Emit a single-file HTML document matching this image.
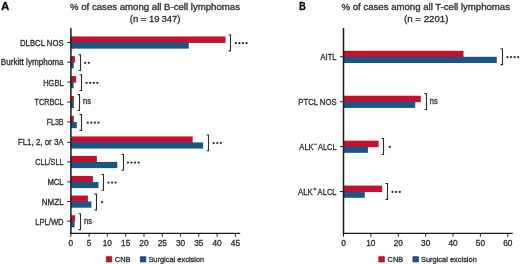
<!DOCTYPE html>
<html><head><meta charset="utf-8"><style>
html,body{margin:0;padding:0;background:#fff;}
body{width:520px;height:264px;overflow:hidden;}
svg{display:block;font-family:"Liberation Sans",sans-serif;will-change:transform;}
text{stroke:#2b2b2b;stroke-width:0.3px;}
</style></head><body>
<svg width="520" height="264" viewBox="0 0 520 264">
<rect width="520" height="264" fill="#fff"/>
<rect x="70.90" y="36.45" width="154.60" height="6.5" fill="#c5112d"/>
<rect x="70.90" y="42.45" width="117.90" height="6.2" fill="#1a5685"/>
<line x1="67.30" y1="42.45" x2="70.90" y2="42.45" stroke="#1a1a1a" stroke-width="1"/>
<text x="20.00" y="45.90" font-size="8.6" textLength="43.60" lengthAdjust="spacingAndGlyphs" font-weight="normal" fill="#2b2b2b" >DLBCL NOS</text>
<path d="M228.50 35.05 H230.50 V50.85 H228.50" fill="none" stroke="#2b2b2b" stroke-width="1.1"/>
<circle cx="235.80" cy="43.15" r="1.15" fill="#2b2b2b"/>
<circle cx="239.38" cy="43.15" r="1.15" fill="#2b2b2b"/>
<circle cx="242.96" cy="43.15" r="1.15" fill="#2b2b2b"/>
<circle cx="246.54" cy="43.15" r="1.15" fill="#2b2b2b"/>
<rect x="70.90" y="56.15" width="4.10" height="6.5" fill="#c5112d"/>
<rect x="70.90" y="62.15" width="2.90" height="6.2" fill="#1a5685"/>
<line x1="67.30" y1="62.15" x2="70.90" y2="62.15" stroke="#1a1a1a" stroke-width="1"/>
<text x="0.80" y="65.00" font-size="8.6" textLength="62.80" lengthAdjust="spacingAndGlyphs" font-weight="normal" fill="#2b2b2b" >Burkitt lymphoma</text>
<path d="M78.50 54.75 H80.50 V70.55 H78.50" fill="none" stroke="#2b2b2b" stroke-width="1.1"/>
<circle cx="85.20" cy="62.85" r="1.15" fill="#2b2b2b"/>
<circle cx="88.78" cy="62.85" r="1.15" fill="#2b2b2b"/>
<rect x="70.90" y="76.10" width="5.20" height="6.5" fill="#c5112d"/>
<rect x="70.90" y="82.10" width="2.70" height="6.2" fill="#1a5685"/>
<line x1="67.30" y1="82.10" x2="70.90" y2="82.10" stroke="#1a1a1a" stroke-width="1"/>
<text x="43.20" y="85.60" font-size="8.6" textLength="20.40" lengthAdjust="spacingAndGlyphs" font-weight="normal" fill="#2b2b2b" >HGBL</text>
<path d="M79.50 74.70 H81.50 V90.50 H79.50" fill="none" stroke="#2b2b2b" stroke-width="1.1"/>
<circle cx="86.60" cy="82.80" r="1.15" fill="#2b2b2b"/>
<circle cx="90.18" cy="82.80" r="1.15" fill="#2b2b2b"/>
<circle cx="93.76" cy="82.80" r="1.15" fill="#2b2b2b"/>
<circle cx="97.34" cy="82.80" r="1.15" fill="#2b2b2b"/>
<rect x="70.90" y="96.05" width="2.95" height="6.5" fill="#c5112d"/>
<rect x="70.90" y="102.05" width="2.95" height="6.2" fill="#1a5685"/>
<line x1="67.30" y1="102.05" x2="70.90" y2="102.05" stroke="#1a1a1a" stroke-width="1"/>
<text x="34.50" y="105.30" font-size="8.6" textLength="29.10" lengthAdjust="spacingAndGlyphs" font-weight="normal" fill="#2b2b2b" >TCRBCL</text>
<path d="M77.50 94.65 H79.50 V110.45 H77.50" fill="none" stroke="#2b2b2b" stroke-width="1.1"/>
<text x="83.00" y="104.45" font-size="8.6" textLength="7.90" lengthAdjust="spacingAndGlyphs" font-weight="normal" fill="#2b2b2b" >ns</text>
<rect x="70.90" y="116.00" width="2.90" height="6.5" fill="#c5112d"/>
<rect x="70.90" y="122.00" width="5.90" height="6.2" fill="#1a5685"/>
<line x1="67.30" y1="122.00" x2="70.90" y2="122.00" stroke="#1a1a1a" stroke-width="1"/>
<text x="46.70" y="125.00" font-size="8.6" textLength="16.90" lengthAdjust="spacingAndGlyphs" font-weight="normal" fill="#2b2b2b" >FL3B</text>
<path d="M79.50 114.60 H81.50 V130.40 H79.50" fill="none" stroke="#2b2b2b" stroke-width="1.1"/>
<circle cx="87.70" cy="122.70" r="1.15" fill="#2b2b2b"/>
<circle cx="91.28" cy="122.70" r="1.15" fill="#2b2b2b"/>
<circle cx="94.86" cy="122.70" r="1.15" fill="#2b2b2b"/>
<circle cx="98.44" cy="122.70" r="1.15" fill="#2b2b2b"/>
<rect x="70.90" y="136.40" width="121.80" height="6.5" fill="#c5112d"/>
<rect x="70.90" y="142.40" width="132.20" height="6.2" fill="#1a5685"/>
<line x1="67.30" y1="142.40" x2="70.90" y2="142.40" stroke="#1a1a1a" stroke-width="1"/>
<text x="17.90" y="144.70" font-size="8.6" textLength="45.70" lengthAdjust="spacingAndGlyphs" font-weight="normal" fill="#2b2b2b" >FL1, 2, or 3A</text>
<path d="M206.50 135.00 H208.50 V150.80 H206.50" fill="none" stroke="#2b2b2b" stroke-width="1.1"/>
<circle cx="213.70" cy="143.10" r="1.15" fill="#2b2b2b"/>
<circle cx="217.28" cy="143.10" r="1.15" fill="#2b2b2b"/>
<circle cx="220.86" cy="143.10" r="1.15" fill="#2b2b2b"/>
<rect x="70.90" y="155.90" width="26.00" height="6.5" fill="#c5112d"/>
<rect x="70.90" y="161.90" width="46.35" height="6.2" fill="#1a5685"/>
<line x1="67.30" y1="161.90" x2="70.90" y2="161.90" stroke="#1a1a1a" stroke-width="1"/>
<text x="35.20" y="165.30" font-size="8.6" textLength="28.40" lengthAdjust="spacingAndGlyphs" font-weight="normal" fill="#2b2b2b" >CLL/SLL</text>
<path d="M121.50 154.50 H123.50 V170.30 H121.50" fill="none" stroke="#2b2b2b" stroke-width="1.1"/>
<circle cx="127.90" cy="162.60" r="1.15" fill="#2b2b2b"/>
<circle cx="131.48" cy="162.60" r="1.15" fill="#2b2b2b"/>
<circle cx="135.06" cy="162.60" r="1.15" fill="#2b2b2b"/>
<circle cx="138.64" cy="162.60" r="1.15" fill="#2b2b2b"/>
<rect x="70.90" y="175.90" width="22.00" height="6.5" fill="#c5112d"/>
<rect x="70.90" y="181.90" width="27.60" height="6.2" fill="#1a5685"/>
<line x1="67.30" y1="181.90" x2="70.90" y2="181.90" stroke="#1a1a1a" stroke-width="1"/>
<text x="47.40" y="185.00" font-size="8.6" textLength="16.20" lengthAdjust="spacingAndGlyphs" font-weight="normal" fill="#2b2b2b" >MCL</text>
<path d="M101.50 174.50 H103.50 V190.30 H101.50" fill="none" stroke="#2b2b2b" stroke-width="1.1"/>
<circle cx="108.50" cy="182.60" r="1.15" fill="#2b2b2b"/>
<circle cx="112.08" cy="182.60" r="1.15" fill="#2b2b2b"/>
<circle cx="115.66" cy="182.60" r="1.15" fill="#2b2b2b"/>
<rect x="70.90" y="195.50" width="17.00" height="6.5" fill="#c5112d"/>
<rect x="70.90" y="201.50" width="20.50" height="6.2" fill="#1a5685"/>
<line x1="67.30" y1="201.50" x2="70.90" y2="201.50" stroke="#1a1a1a" stroke-width="1"/>
<text x="41.80" y="205.00" font-size="8.6" textLength="21.80" lengthAdjust="spacingAndGlyphs" font-weight="normal" fill="#2b2b2b" >NMZL</text>
<path d="M94.50 194.10 H96.50 V209.90 H94.50" fill="none" stroke="#2b2b2b" stroke-width="1.1"/>
<circle cx="102.00" cy="202.20" r="1.15" fill="#2b2b2b"/>
<rect x="70.90" y="215.20" width="4.20" height="6.5" fill="#c5112d"/>
<rect x="70.90" y="221.20" width="3.70" height="6.2" fill="#1a5685"/>
<line x1="67.30" y1="221.20" x2="70.90" y2="221.20" stroke="#1a1a1a" stroke-width="1"/>
<text x="35.20" y="224.90" font-size="8.6" textLength="28.40" lengthAdjust="spacingAndGlyphs" font-weight="normal" fill="#2b2b2b" >LPL/WD</text>
<path d="M78.50 213.80 H80.50 V229.60 H78.50" fill="none" stroke="#2b2b2b" stroke-width="1.1"/>
<text x="84.10" y="223.60" font-size="8.6" textLength="7.90" lengthAdjust="spacingAndGlyphs" font-weight="normal" fill="#2b2b2b" >ns</text>
<line x1="70.90" y1="28" x2="70.90" y2="234" stroke="#1a1a1a" stroke-width="1.5"/>
<line x1="70.15" y1="233.3" x2="240.20" y2="233.3" stroke="#1a1a1a" stroke-width="1.3"/>
<line x1="70.80" y1="233" x2="70.80" y2="236.7" stroke="#1a1a1a" stroke-width="1"/>
<text x="70.80" y="245.6" font-size="8.3" text-anchor="middle" fill="#2b2b2b">0</text>
<line x1="89.09" y1="233" x2="89.09" y2="236.7" stroke="#1a1a1a" stroke-width="1"/>
<text x="89.09" y="245.6" font-size="8.3" text-anchor="middle" fill="#2b2b2b">5</text>
<line x1="107.38" y1="233" x2="107.38" y2="236.7" stroke="#1a1a1a" stroke-width="1"/>
<text x="107.38" y="245.6" font-size="8.3" text-anchor="middle" fill="#2b2b2b">10</text>
<line x1="125.67" y1="233" x2="125.67" y2="236.7" stroke="#1a1a1a" stroke-width="1"/>
<text x="125.67" y="245.6" font-size="8.3" text-anchor="middle" fill="#2b2b2b">15</text>
<line x1="143.96" y1="233" x2="143.96" y2="236.7" stroke="#1a1a1a" stroke-width="1"/>
<text x="143.96" y="245.6" font-size="8.3" text-anchor="middle" fill="#2b2b2b">20</text>
<line x1="162.25" y1="233" x2="162.25" y2="236.7" stroke="#1a1a1a" stroke-width="1"/>
<text x="162.25" y="245.6" font-size="8.3" text-anchor="middle" fill="#2b2b2b">25</text>
<line x1="180.54" y1="233" x2="180.54" y2="236.7" stroke="#1a1a1a" stroke-width="1"/>
<text x="180.54" y="245.6" font-size="8.3" text-anchor="middle" fill="#2b2b2b">30</text>
<line x1="198.83" y1="233" x2="198.83" y2="236.7" stroke="#1a1a1a" stroke-width="1"/>
<text x="198.83" y="245.6" font-size="8.3" text-anchor="middle" fill="#2b2b2b">35</text>
<line x1="217.12" y1="233" x2="217.12" y2="236.7" stroke="#1a1a1a" stroke-width="1"/>
<text x="217.12" y="245.6" font-size="8.3" text-anchor="middle" fill="#2b2b2b">40</text>
<line x1="235.41" y1="233" x2="235.41" y2="236.7" stroke="#1a1a1a" stroke-width="1"/>
<text x="235.41" y="245.6" font-size="8.3" text-anchor="middle" fill="#2b2b2b">45</text>
<text x="70.00" y="9.8" font-size="9.2" textLength="170.00" lengthAdjust="spacingAndGlyphs" fill="#2b2b2b">% of cases among all B-cell lymphomas</text>
<text x="129.80" y="21.7" font-size="9.5" textLength="50.60" lengthAdjust="spacingAndGlyphs" fill="#2b2b2b">(n = 19 347)</text>
<text x="1.00" y="9.70" font-size="11.6" font-weight="bold" fill="#000" textLength="8.40" lengthAdjust="spacingAndGlyphs">A</text>
<rect x="106.20" y="256.7" width="5.7" height="5.3" fill="#c5112d" stroke="#a00c26" stroke-width="0.6"/>
<text x="114.80" y="261.80" font-size="7.8" textLength="15.80" lengthAdjust="spacingAndGlyphs" font-weight="normal" fill="#2b2b2b" >CNB</text>
<rect x="140.20" y="256.7" width="5.7" height="5.3" fill="#1a5685" stroke="#0f3a63" stroke-width="0.6"/>
<text x="148.40" y="261.80" font-size="7.8" textLength="55.80" lengthAdjust="spacingAndGlyphs" font-weight="normal" fill="#2b2b2b" >Surgical excision</text>
<rect x="343.50" y="50.80" width="120.00" height="6.5" fill="#c5112d"/>
<rect x="343.50" y="56.80" width="153.30" height="6.2" fill="#1a5685"/>
<line x1="339.90" y1="56.80" x2="343.50" y2="56.80" stroke="#1a1a1a" stroke-width="1"/>
<text x="320.50" y="59.90" font-size="8.6" textLength="16.10" lengthAdjust="spacingAndGlyphs" font-weight="normal" fill="#2b2b2b" >AITL</text>
<path d="M500.50 48.70 H502.50 V64.60 H500.50" fill="none" stroke="#2b2b2b" stroke-width="1.1"/>
<circle cx="507.40" cy="57.10" r="1.15" fill="#2b2b2b"/>
<circle cx="510.98" cy="57.10" r="1.15" fill="#2b2b2b"/>
<circle cx="514.56" cy="57.10" r="1.15" fill="#2b2b2b"/>
<circle cx="518.14" cy="57.10" r="1.15" fill="#2b2b2b"/>
<rect x="343.50" y="95.73" width="77.30" height="6.5" fill="#c5112d"/>
<rect x="343.50" y="101.73" width="71.70" height="6.2" fill="#1a5685"/>
<line x1="339.90" y1="101.73" x2="343.50" y2="101.73" stroke="#1a1a1a" stroke-width="1"/>
<text x="298.30" y="104.83" font-size="8.6" textLength="38.30" lengthAdjust="spacingAndGlyphs" font-weight="normal" fill="#2b2b2b" >PTCL NOS</text>
<path d="M424.50 93.63 H426.50 V109.53 H424.50" fill="none" stroke="#2b2b2b" stroke-width="1.1"/>
<text x="429.80" y="104.13" font-size="8.6" textLength="7.90" lengthAdjust="spacingAndGlyphs" font-weight="normal" fill="#2b2b2b" >ns</text>
<rect x="343.50" y="140.66" width="35.10" height="6.5" fill="#c5112d"/>
<rect x="343.50" y="146.66" width="24.40" height="6.2" fill="#1a5685"/>
<line x1="339.90" y1="146.66" x2="343.50" y2="146.66" stroke="#1a1a1a" stroke-width="1"/>
<text x="299.30" y="149.76" font-size="8.6" textLength="14.40" lengthAdjust="spacingAndGlyphs" font-weight="normal" fill="#2b2b2b" >ALK</text>
<rect x="313.9" y="143.76" width="3.2" height="0.9" fill="#2b2b2b"/>
<text x="318.00" y="149.76" font-size="8.6" textLength="18.60" lengthAdjust="spacingAndGlyphs" font-weight="normal" fill="#2b2b2b" >ALCL</text>
<path d="M381.50 138.56 H383.50 V154.46 H381.50" fill="none" stroke="#2b2b2b" stroke-width="1.1"/>
<circle cx="389.80" cy="146.96" r="1.15" fill="#2b2b2b"/>
<rect x="343.50" y="185.59" width="38.60" height="6.5" fill="#c5112d"/>
<rect x="343.50" y="191.59" width="21.30" height="6.2" fill="#1a5685"/>
<line x1="339.90" y1="191.59" x2="343.50" y2="191.59" stroke="#1a1a1a" stroke-width="1"/>
<text x="298.00" y="194.69" font-size="8.6" textLength="14.75" lengthAdjust="spacingAndGlyphs" font-weight="normal" fill="#2b2b2b" >ALK</text>
<rect x="313.5" y="188.59" width="2.9" height="0.9" fill="#2b2b2b"/>
<rect x="314.5" y="187.59" width="0.9" height="2.9" fill="#2b2b2b"/>
<text x="317.60" y="194.69" font-size="8.6" textLength="19.00" lengthAdjust="spacingAndGlyphs" font-weight="normal" fill="#2b2b2b" >ALCL</text>
<path d="M385.50 183.49 H387.50 V199.39 H385.50" fill="none" stroke="#2b2b2b" stroke-width="1.1"/>
<circle cx="392.60" cy="191.89" r="1.15" fill="#2b2b2b"/>
<circle cx="396.18" cy="191.89" r="1.15" fill="#2b2b2b"/>
<circle cx="399.76" cy="191.89" r="1.15" fill="#2b2b2b"/>
<line x1="343.50" y1="28" x2="343.50" y2="234" stroke="#1a1a1a" stroke-width="1.5"/>
<line x1="342.75" y1="233.3" x2="512.70" y2="233.3" stroke="#1a1a1a" stroke-width="1.3"/>
<line x1="343.50" y1="233" x2="343.50" y2="236.7" stroke="#1a1a1a" stroke-width="1"/>
<text x="343.50" y="245.6" font-size="8.3" text-anchor="middle" fill="#2b2b2b">0</text>
<line x1="370.88" y1="233" x2="370.88" y2="236.7" stroke="#1a1a1a" stroke-width="1"/>
<text x="370.88" y="245.6" font-size="8.3" text-anchor="middle" fill="#2b2b2b">10</text>
<line x1="398.26" y1="233" x2="398.26" y2="236.7" stroke="#1a1a1a" stroke-width="1"/>
<text x="398.26" y="245.6" font-size="8.3" text-anchor="middle" fill="#2b2b2b">20</text>
<line x1="425.64" y1="233" x2="425.64" y2="236.7" stroke="#1a1a1a" stroke-width="1"/>
<text x="425.64" y="245.6" font-size="8.3" text-anchor="middle" fill="#2b2b2b">30</text>
<line x1="453.02" y1="233" x2="453.02" y2="236.7" stroke="#1a1a1a" stroke-width="1"/>
<text x="453.02" y="245.6" font-size="8.3" text-anchor="middle" fill="#2b2b2b">40</text>
<line x1="480.40" y1="233" x2="480.40" y2="236.7" stroke="#1a1a1a" stroke-width="1"/>
<text x="480.40" y="245.6" font-size="8.3" text-anchor="middle" fill="#2b2b2b">50</text>
<line x1="507.78" y1="233" x2="507.78" y2="236.7" stroke="#1a1a1a" stroke-width="1"/>
<text x="507.78" y="245.6" font-size="8.3" text-anchor="middle" fill="#2b2b2b">60</text>
<text x="341.50" y="9.8" font-size="9.2" textLength="168.50" lengthAdjust="spacingAndGlyphs" fill="#2b2b2b">% of cases among all T-cell lymphomas</text>
<text x="404.00" y="21.7" font-size="9.5" textLength="44.50" lengthAdjust="spacingAndGlyphs" fill="#2b2b2b">(n = 2201)</text>
<text x="299.00" y="9.90" font-size="11.6" font-weight="bold" fill="#000" textLength="6.80" lengthAdjust="spacingAndGlyphs">B</text>
<rect x="378.80" y="256.7" width="5.7" height="5.3" fill="#c5112d" stroke="#a00c26" stroke-width="0.6"/>
<text x="387.60" y="261.80" font-size="7.8" textLength="15.50" lengthAdjust="spacingAndGlyphs" font-weight="normal" fill="#2b2b2b" >CNB</text>
<rect x="412.90" y="256.7" width="5.7" height="5.3" fill="#1a5685" stroke="#0f3a63" stroke-width="0.6"/>
<text x="421.00" y="261.80" font-size="7.8" textLength="55.80" lengthAdjust="spacingAndGlyphs" font-weight="normal" fill="#2b2b2b" >Surgical excision</text>
</svg>
</body></html>
